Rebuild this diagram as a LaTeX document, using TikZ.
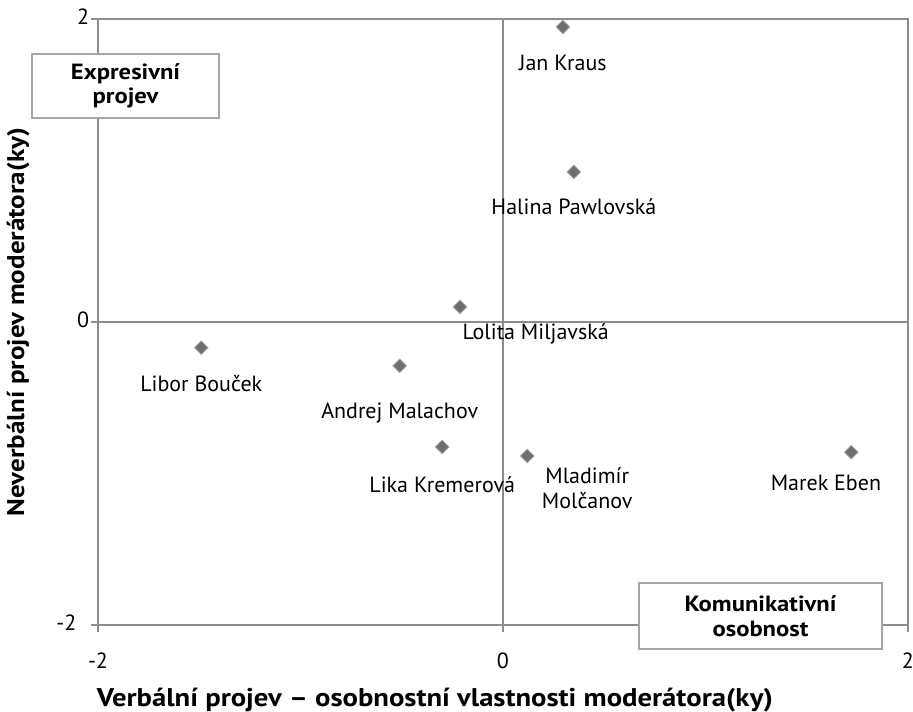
\documentclass[tikz,border=0pt]{standalone}
\usepackage{fontspec}
\setmainfont{PT Sans}[BoldFeatures={FakeStretch=1.12}]
\usetikzlibrary{positioning}
\usetikzlibrary{shapes.geometric}
\definecolor{axisgray}{HTML}{8C8C8C}
\definecolor{markgray}{HTML}{6E6E6E}
\definecolor{boxgray}{HTML}{A6A6A6}
\tikzset{
  person/.style={diamond, fill=markgray, draw=markgray!60!white, line width=0.6pt, minimum size=10.5pt, inner sep=0pt},
  persname/.style={inner sep=0pt, text height=11.5pt, text depth=3.5pt, font=\fontsize{16.5}{19}\selectfont},
  tick/.style={inner sep=0pt, text height=11.5pt, text depth=3.5pt, font=\fontsize{16.5}{19}\selectfont},
  quadrant/.style={draw=boxgray, line width=1.1pt, fill=white, align=center, font=\bfseries\fontsize{16.5}{18.5}\selectfont},
  axistitle/.style={inner sep=0pt, font=\bfseries\fontsize{18.6}{20}\selectfont},
}

\begin{document}
\begin{tikzpicture}[x=151.875pt, y=113.625pt]
\useasboundingbox (-2.484,-2.574) rectangle (2.025,2.125);
\draw[axisgray, line width=1.1pt] (-2,2) -- (2,2) -- (2,-2);
\draw[axisgray, line width=1.1pt] (-2,-2) -- (2,-2);
\draw[axisgray, line width=1.1pt] (-2,-2) -- (-2,2);
\draw[axisgray, line width=1.1pt] (-2,0) -- (2,0);
\draw[axisgray, line width=1.1pt] (0,-2) -- (0,2);
\foreach \v in {-2,0,2} {
\draw[axisgray, line width=1.1pt] (-2,\v) -- ++(-5pt,0);
\draw[axisgray, line width=1.1pt] (\v,-2) -- ++(0,-5pt);
\node[tick, anchor=north] (xt\v) at ([yshift=-21pt]\v,-2) {\v};
}
\node[tick, anchor=east] (yt2) at ([xshift=-6.5pt]-2,2) {2};
\node[tick, anchor=east] (yt0) at ([xshift=-6.5pt]-2,0) {0};
\node[tick, anchor=east] (ytm2) at ([xshift=-16pt]-2,-2) {-2};
%\node (ytitle) ...
\node[axistitle, rotate=90, font=\bfseries\fontsize{18.1}{20}\selectfont] (ytitle) at (-2.395,0) {Neverbální projev moderátora(ky)};
\node[axistitle, font=\bfseries\fontsize{19.2}{20}\selectfont] (xtitle) at (-0.336,-2.495) {Verbální projev – osobnostní vlastnosti moderátora(ky)};

\node[quadrant, minimum width=140pt, minimum height=48pt] (expr) at (-1.864,1.558) {Expresivní\\projev};
\node[quadrant, minimum width=182pt, minimum height=49.5pt] (komu) at (1.272,-1.941) {Komunikativní\\osobnost};

\node[person] (kraus) at (0.296,1.947) {};
\node[person] (pawlovska) at (0.35,0.99) {};
\node[person] (miljavska) at (-0.212,0.099) {};
\node[person] (boucek) at (-1.49,-0.17) {};
\node[person] (malachov) at (-0.51,-0.29) {};
\node[person] (kremerova) at (-0.30,-0.825) {};
\node[person] (molcanov) at (0.12,-0.885) {};
\node[person] (eben) at (1.72,-0.86) {};

\node[persname, below=15.75pt of kraus] (krausl) {Jan Kraus};
\node[persname, below=15pt of pawlovska] (pawlovskal) {Halina Pawlovská};
\node[persname, below right=10.1pt and -1.1pt of miljavska] (miljavskal) {Lolita Miljavská};
\node[persname, below=15.75pt of boucek] (boucekl) {Libor Bouček};
\node[persname, below=22.5pt of malachov] (malachovl) {Andrej Malachov};
\node[persname, below=17pt of kremerova] (kremerova) {Lika Kremerová};
\node[persname, below=3pt of molcanov, xshift=45pt, text height=, text depth=, align=center] (molcanovl) {Mladimír\\Molčanov};
\node[persname, below=11.75pt of eben, xshift=-19pt] (ebenl) {Marek Eben};
\end{tikzpicture}
\end{document}
